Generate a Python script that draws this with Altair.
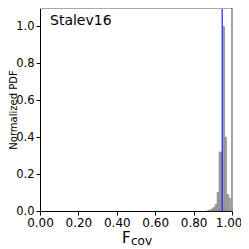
import altair as alt
import pandas as pd

# histogram of F_cov (normalized so the tallest bin = 1)
bin_start = [0.872, 0.882, 0.892, 0.902, 0.912, 0.922, 0.932, 0.942, 0.952, 0.962, 0.972, 0.983]
bin_end = [0.882, 0.892, 0.902, 0.912, 0.922, 0.932, 0.942, 0.952, 0.962, 0.972, 0.983, 0.993]
pdf = [0.003, 0.005, 0.012, 0.02, 0.036, 0.10, 0.32, 0.32, 1.0, 0.40, 0.09, 0.07]
mean_fcov = [0.949]
x_ticks = [0.0, 0.2, 0.4, 0.6, 0.8, 1.0]
y_ticks = [0.0, 0.2, 0.4, 0.6, 0.8, 1.0]
label_text = ["Stalev16"]

W, H = 192, 203

df = pd.DataFrame({"start": bin_start, "end": bin_end, "pdf": pdf})
mean_df = pd.DataFrame({"fcov": mean_fcov})
one = pd.DataFrame({"label": label_text})

xscale = alt.Scale(domain=[0, 1], nice=False, zero=False)
yscale = alt.Scale(domain=[0, 1.1], nice=False)

x_axis = alt.Axis(values=x_ticks, format=".2f", title=None, grid=False,
                  labelFontSize=12, labelOverlap=False, labelPadding=2,
                  labelAlign=alt.condition("datum.value == 1", alt.value("right"), alt.value("center")),
                  labelOffset=alt.condition("datum.value == 1", alt.value(10), alt.value(0)))

bars = alt.Chart(df).mark_rect(fill="#a8a8a8", stroke="#666666", strokeWidth=0.4).encode(
    x=alt.X("start:Q", scale=xscale, axis=x_axis),
    x2="end:Q",
    y=alt.Y("pdf:Q", scale=yscale,
            axis=alt.Axis(values=y_ticks, format=".1f", title="Normalized PDF", grid=False,
                          labelFontSize=11.5, labelOverlap=False,
                          titleFontSize=10, titleX=-23.5, titleY=H / 2,
                          titleBaseline="alphabetic", titleAngle=270)),
    y2=alt.datum(0),
)

mean_rule = alt.Chart(mean_df).mark_rule(color="#1f1fff", strokeWidth=1.2).encode(
    x=alt.X("fcov:Q", scale=xscale, axis=x_axis),
    y=alt.value(0),
    y2=alt.value(H),
)

top_spine = alt.Chart(one).mark_rule(color="#aaaaaa", strokeWidth=2).encode(
    x=alt.value(0), x2=alt.value(W), y=alt.value(0)
)
right_spine = alt.Chart(one).mark_rule(color="#444444", strokeWidth=1).encode(
    x=alt.value(W), y=alt.value(0), y2=alt.value(H)
)

label = alt.Chart(one).mark_text(
    align="left", baseline="alphabetic", font="DejaVu Sans", fontSize=14, color="black"
).encode(x=alt.value(10), y=alt.value(17), text="label:N")

f_title = alt.Chart(one).mark_text(
    align="left", baseline="alphabetic", font="DejaVu Sans", fontSize=15, color="black"
).encode(x=alt.value(82), y=alt.value(235), text=alt.value("F"))
cov_title = alt.Chart(one).mark_text(
    align="left", baseline="alphabetic", font="DejaVu Sans", fontSize=12, color="black"
).encode(x=alt.value(91), y=alt.value(237), text=alt.value("cov"))

chart = alt.layer(bars, mean_rule, top_spine, right_spine, label, f_title, cov_title).properties(
    width=W, height=H, autosize="none",
    padding={"left": 32, "top": 0, "right": 9, "bottom": 38},
).configure_view(stroke=None).configure_axis(
    labelFont="DejaVu Sans", labelColor="black",
    titleFont="DejaVu Sans", titleColor="black", titleFontWeight="normal",
    domainColor="black", tickColor="black", tickSize=4, labelPadding=2,
    labelOverlap=False,
)

chart.save("out.html", embed_options={"renderer": "svg", "actions": False})
